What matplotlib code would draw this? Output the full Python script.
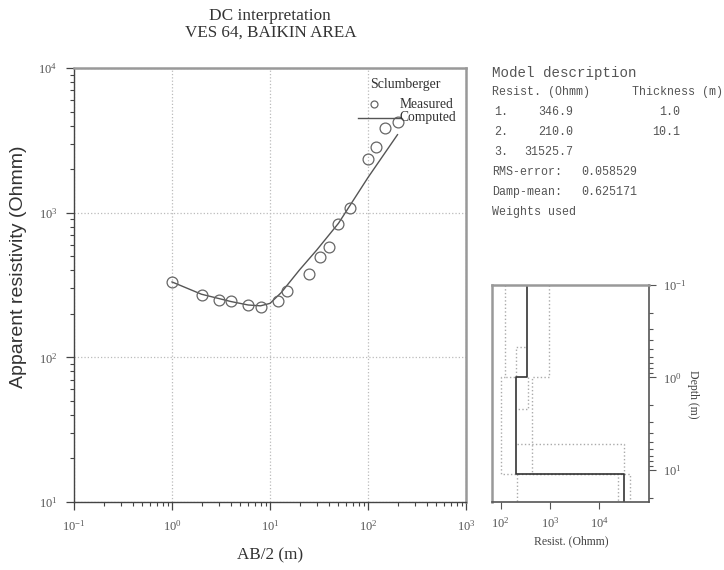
import numpy as np
import matplotlib
matplotlib.use("Agg")
import matplotlib.pyplot as plt
from matplotlib.ticker import LogLocator, NullFormatter, NullLocator

plt.rcParams['font.family'] = ['Liberation Serif', 'DejaVu Serif']

# measured sounding (Schlumberger)
ab2 = [1, 2, 3, 4, 6, 8, 12, 15, 25, 32, 40, 50, 65, 100, 120, 150, 200]
rho_meas = [330, 270, 249, 245, 230, 224, 245, 289, 378, 496, 579, 839, 1072, 2338, 2857, 3831, 4254]

# computed curve
ab2_calc = [1, 2, 4, 6, 8, 10, 13, 20, 30, 50, 100, 200]
rho_calc = [332, 273, 243, 230, 227, 236, 280, 402, 552, 845, 1750, 3460]

# layered model
model_rho = [346.9, 210.0, 31525.7]
model_top = [0.1, 1.0, 11.1]
depth_max = 22

# equivalence bounds (dotted step lines)
eq_paths = [
    ([124, 124, 100, 100, 24000, 24000], [0.1, 1.0, 1.0, 11.1, 11.1, depth_max]),
    ([960, 960, 437, 437, 41400, 41400], [0.1, 1.0, 1.0, 11.1, 11.1, depth_max]),
    ([307, 210, 210, 124], [0.47, 0.47, 1.0, 1.0]),
    ([353, 353, 213], [1.0, 2.2, 2.2]),
    ([213, 31500, 31500], [5.27, 5.27, 11.1]),
    ([213, 213], [11.1, depth_max]),
]

model_lines = ["Resist. (Ohmm)      Thickness (m)"]
layer_rho_txt = ["346.9", "210.0", "31525.7"]
layer_thk_txt = ["1.0", "10.1", ""]
rms_txt = "0.058529"
damp_txt = "0.625171"

W, H = 724, 570
fig = plt.figure(figsize=(W / 100, H / 100), dpi=100)


def fx(x):
    return x / W


def fy(y):
    return 1 - y / H


tick_col = '#555555'

# ---- main sounding plot
ax = fig.add_axes([fx(74), fy(502), fx(466) - fx(74), fy(68) - fy(502)])
ax.set_xscale('log')
ax.set_yscale('log')
ax.set_xlim(0.1, 1000)
ax.set_ylim(10, 10000)

ax.grid(True, which='major', linestyle=':', color='#bbbbbb', lw=0.9)
ax.plot(ab2_calc, rho_calc, '-', color='#555555', lw=1.0)
ax.plot(ab2, rho_meas, 'o', mfc='none', mec='#666666', mew=0.9, ms=7.8)

ax.xaxis.set_minor_locator(LogLocator(base=10, subs=np.arange(2, 10)))
ax.yaxis.set_minor_locator(LogLocator(base=10, subs=np.arange(2, 10)))
ax.xaxis.set_minor_formatter(NullFormatter())
ax.yaxis.set_minor_formatter(NullFormatter())
ax.tick_params(which='major', direction='out', length=6, width=0.9, color='#444444',
               labelsize=9, labelcolor=tick_col, pad=6)
ax.tick_params(which='minor', direction='out', length=3, width=0.8, color='#444444')
for side in ['left', 'bottom']:
    ax.spines[side].set_color('#444444')
    ax.spines[side].set_linewidth(1.0)
for side in ['top', 'right']:
    ax.spines[side].set_color('#999999')
    ax.spines[side].set_linewidth(1.8)

# legend drawn by hand
ax.text(0.755, 0.963, 'Sclumberger', transform=ax.transAxes, fontsize=10,
        color='#333333', va='center')
ax.plot([0.765], [0.917], 'o', mfc='none', mec='#666666', mew=0.9, ms=5,
        transform=ax.transAxes, clip_on=False)
ax.text(0.83, 0.917, 'Measured', transform=ax.transAxes, fontsize=9.8,
        color='#333333', va='center')
ax.plot([0.724, 0.831], [0.885, 0.885], '-', color='#555555', lw=1.0,
        transform=ax.transAxes, clip_on=False)
ax.text(0.83, 0.885, 'Computed', transform=ax.transAxes, fontsize=9.8,
        color='#333333', va='center')

fig.text(fx(270), fy(16.5), 'DC interpretation', ha='center', va='center',
         fontsize=12.4, color='#333333')
fig.text(fx(270.5), fy(33), 'VES 64, BAIKIN AREA', ha='center', va='center',
         fontsize=12.3, color='#333333')
fig.text(fx(270), fy(555), 'AB/2 (m)', ha='center', va='center',
         fontsize=12.3, color='#333333')
fig.text(fx(18.5), fy(267), 'Apparent resistivity (Ohmm)', ha='center', va='center',
         rotation=90, fontsize=14, color='#333333', family='Liberation Sans')

# ---- model description text
mono = 'Liberation Mono'
fsz = 8.35
fig.text(fx(492.5), fy(73), 'Model description', family=mono, fontsize=10.2,
         color='#555555', va='center')
fig.text(fx(492.5), fy(92.3), model_lines[0], family=mono, fontsize=fsz,
         color='#555555', va='center')
row_y = [112.3, 132.3, 151.7]
for i in range(3):
    fig.text(fx(494), fy(row_y[i]), '%d.' % (i + 1), family=mono, fontsize=fsz,
             color='#555555', va='center')
    fig.text(fx(573), fy(row_y[i]), layer_rho_txt[i], family=mono, fontsize=fsz,
             color='#555555', va='center', ha='right')
    if layer_thk_txt[i]:
        fig.text(fx(680), fy(row_y[i]), layer_thk_txt[i], family=mono, fontsize=fsz,
                 color='#555555', va='center', ha='right')
fig.text(fx(492.5), fy(171.7), 'RMS-error:', family=mono, fontsize=fsz,
         color='#555555', va='center')
fig.text(fx(581.5), fy(171.7), rms_txt, family=mono, fontsize=fsz,
         color='#555555', va='center')
fig.text(fx(492.5), fy(192.3), 'Damp-mean:', family=mono, fontsize=fsz,
         color='#555555', va='center')
fig.text(fx(581.5), fy(192.3), damp_txt, family=mono, fontsize=fsz,
         color='#555555', va='center')
fig.text(fx(492.5), fy(212.3), 'Weights used', family=mono, fontsize=fsz,
         color='#555555', va='center')

# ---- model (depth) plot
ax2 = fig.add_axes([fx(492.3), fy(501.7), fx(649) - fx(492.3), fy(284.7) - fy(501.7)])
ax2.set_xscale('log')
ax2.set_yscale('log')
ax2.set_xlim(68, 1.02e5)
ax2.set_ylim(depth_max, 0.1)

for xs, ys in eq_paths:
    ax2.plot(xs, ys, ':', color='#aaaaaa', lw=1.0)

step_x = [model_rho[0], model_rho[0], model_rho[1], model_rho[1], model_rho[2], model_rho[2]]
step_y = [model_top[0], model_top[1], model_top[1], model_top[2], model_top[2], depth_max]
ax2.plot(step_x, step_y, '-', color='#333333', lw=1.2)

ax2.yaxis.tick_right()
ax2.yaxis.set_label_position('right')
ax2.set_xticks([1e2, 1e3, 1e4])
ax2.xaxis.set_minor_locator(NullLocator())
ax2.yaxis.set_minor_locator(LogLocator(base=10, subs=np.arange(2, 10)))
ax2.yaxis.set_minor_formatter(NullFormatter())
ax2.tick_params(which='major', direction='out', length=5, width=0.8, color='#555555',
                labelsize=9, labelcolor=tick_col, pad=5)
ax2.tick_params(which='minor', direction='out', length=3, width=0.8, color='#555555')
for side in ['right', 'bottom']:
    ax2.spines[side].set_color('#555555')
    ax2.spines[side].set_linewidth(1.2)
for side in ['top', 'left']:
    ax2.spines[side].set_color('#999999')
    ax2.spines[side].set_linewidth(1.8)

fig.text(fx(693), fy(394), 'Depth (m)', rotation=270, ha='center', va='center',
         fontsize=8.5, color='#444444')
fig.text(fx(571), fy(541.5), 'Resist. (Ohmm)', ha='center', va='center',
         fontsize=8.5, color='#444444')

fig.savefig('out.png', dpi=100, facecolor='white')
